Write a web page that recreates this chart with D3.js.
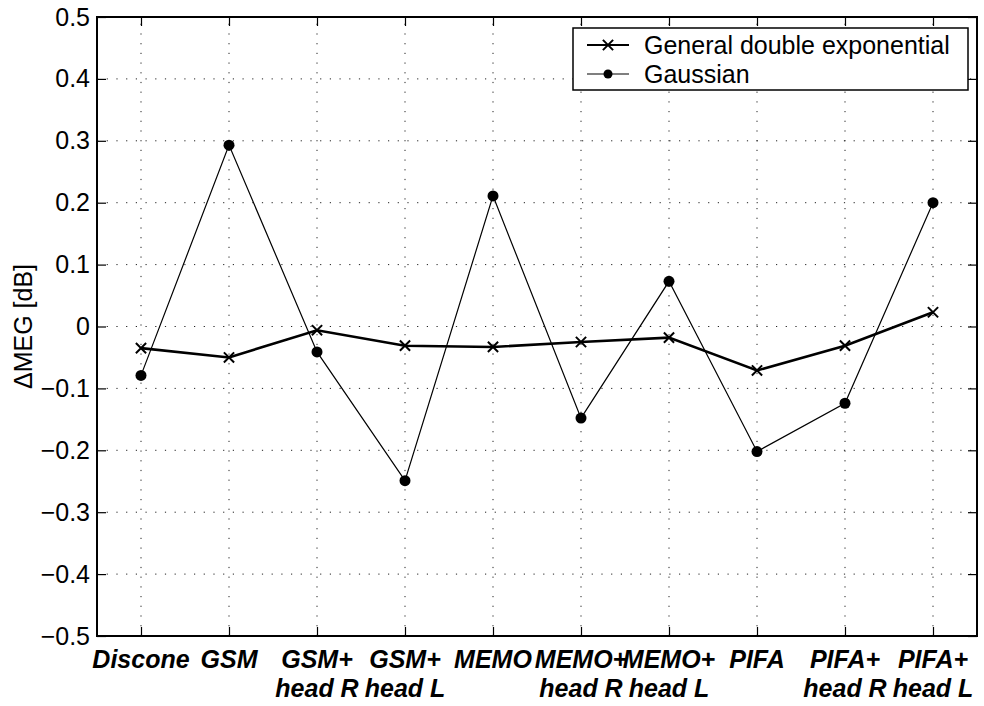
<!DOCTYPE html>
<html>
<head>
<meta charset="utf-8">
<script src="https://cdn.jsdelivr.net/npm/d3@7"></script>
<style>
  body { margin: 0; background: #fff; }
  text { font-family: "Liberation Sans", Arial, Helvetica, sans-serif; }
</style>
</head>
<body>
<svg width="984" height="706"></svg>
<script>
const categories = [
  ['Discone'], ['GSM'], ['GSM+', 'head R'], ['GSM+', 'head L'], ['MEMO'],
  ['MEMO+', 'head R'], ['MEMO+', 'head L'], ['PIFA'], ['PIFA+', 'head R'], ['PIFA+', 'head L']
];
const gdeValues = [-0.035, -0.050, -0.006, -0.031, -0.033, -0.025, -0.018, -0.071, -0.031, 0.023];
const gaussValues = [-0.079, 0.293, -0.041, -0.249, 0.211, -0.148, 0.073, -0.202, -0.124, 0.200];
const seriesNames = ['General double exponential', 'Gaussian'];

const plotLeft = 97, plotRight = 977, plotTop = 17, plotBottom = 636;
const svg = d3.select('svg');

const xScale = d3.scaleLinear()
    .domain([0.5, 10.5])
    .range([plotLeft, plotRight]);
const yScale = d3.scaleLinear()
    .domain([-0.5, 0.5])
    .range([plotBottom, plotTop]);
const yTicks = yScale.ticks(10);
const xTicks = d3.range(1, categories.length + 1);

// grid
const grid = svg.append('g')
    .style('stroke', '#222')
    .style('stroke-width', '1px')
    .style('stroke-dasharray', '1.2,8.5');
grid.selectAll('line.h')
    .data(yTicks.slice(1, -1))
    .enter()
    .append('line')
    .attr('x1', plotLeft)
    .attr('x2', plotRight)
    .attr('y1', d => yScale(d))
    .attr('y2', d => yScale(d));
grid.selectAll('line.v')
    .data(xTicks)
    .enter()
    .append('line')
    .attr('x1', d => xScale(d))
    .attr('x2', d => xScale(d))
    .attr('y1', plotBottom)
    .attr('y2', plotTop);

// axes, ticks inward on all four sides
const fmt = d => d === 0 ? '0' : d3.format('.1f')(d);
const yAxis = d3.axisLeft(yScale)
    .tickValues(yTicks)
    .tickSizeInner(-9)
    .tickSizeOuter(0)
    .tickPadding(8)
    .tickFormat(fmt);
const yAxisG = svg.append('g')
    .attr('transform', `translate(${plotLeft}, 0)`)
    .call(yAxis);
yAxisG.select('.domain').remove();
yAxisG.selectAll('text')
    .attr('x', -7)
    .style('font-size', '25px')
    .style('font-family', '"Liberation Sans", Arial, sans-serif')
    .attr('fill', '#000');

svg.append('g')
    .attr('transform', `translate(${plotRight}, 0)`)
    .call(d3.axisRight(yScale).tickValues(yTicks).tickSizeInner(-9).tickSizeOuter(0).tickFormat(''))
    .select('.domain').remove();
svg.append('g')
    .attr('transform', `translate(0, ${plotTop})`)
    .call(d3.axisTop(xScale).tickValues(xTicks).tickSizeInner(-9).tickSizeOuter(0).tickFormat(''))
    .select('.domain').remove();
const xAxisG = svg.append('g')
    .attr('transform', `translate(0, ${plotBottom})`)
    .call(d3.axisBottom(xScale).tickValues(xTicks).tickSizeInner(-9).tickSizeOuter(0).tickFormat(''));
xAxisG.select('.domain').remove();
svg.selectAll('.tick line').style('stroke', '#000').style('stroke-width', '1.2px');

svg.append('rect')
    .attr('x', plotLeft)
    .attr('y', plotTop)
    .attr('width', plotRight - plotLeft)
    .attr('height', plotBottom - plotTop)
    .style('fill', 'none')
    .style('stroke', '#000')
    .style('stroke-width', '2px');

// category labels
const xLabels = svg.append('g')
    .selectAll('text')
    .data(categories)
    .enter()
    .append('text')
    .attr('x', (d, i) => xScale(i + 1))
    .attr('y', 668)
    .attr('text-anchor', 'middle')
    .style('font-size', '25px')
    .style('font-weight', 'bold')
    .style('font-style', 'italic');
xLabels.selectAll('tspan')
    .data(d => d)
    .enter()
    .append('tspan')
    .attr('x', function () { return this.parentNode.getAttribute('x'); })
    .attr('dy', (d, i) => i === 0 ? 0 : 29)
    .text(d => d);

svg.append('text')
    .attr('transform', `translate(32, ${(plotTop + plotBottom) / 2}) rotate(-90)`)
    .attr('text-anchor', 'middle')
    .style('font-size', '25px')
    .text('\u0394MEG [dB]');

// series
const line = d3.line()
    .x((d, i) => xScale(i + 1))
    .y(d => yScale(d));

svg.append('path')
    .datum(gaussValues)
    .attr('d', line)
    .style('fill', 'none')
    .style('stroke', '#000')
    .style('stroke-width', '1.2px');
svg.selectAll('circle.gauss')
    .data(gaussValues)
    .enter()
    .append('circle')
    .attr('class', 'gauss')
    .attr('cx', (d, i) => xScale(i + 1))
    .attr('cy', d => yScale(d))
    .attr('r', 5.5)
    .style('fill', '#000');

svg.append('path')
    .datum(gdeValues)
    .attr('d', line)
    .style('fill', 'none')
    .style('stroke', '#000')
    .style('stroke-width', '2.6px');
const cross = d3.symbol().type(d3.symbolX).size(70);
svg.selectAll('path.gde')
    .data(gdeValues)
    .enter()
    .append('path')
    .attr('class', 'gde')
    .attr('d', cross)
    .attr('transform', (d, i) => `translate(${xScale(i + 1)}, ${yScale(d)})`)
    .style('fill', 'none')
    .style('stroke', '#000')
    .style('stroke-width', '2px');

// legend
const legend = svg.append('g');
legend.append('rect')
    .attr('x', 573)
    .attr('y', 28)
    .attr('width', 395)
    .attr('height', 62)
    .style('fill', '#fff')
    .style('stroke', '#000')
    .style('stroke-width', '1.5px');
const rows = legend.selectAll('g.row')
    .data(seriesNames)
    .enter()
    .append('g')
    .attr('transform', (d, i) => `translate(0, ${45 + i * 29})`);
rows.append('line')
    .attr('x1', 587)
    .attr('x2', 629)
    .attr('y1', 0)
    .attr('y2', 0)
    .style('stroke', '#000')
    .style('stroke-width', (d, i) => i === 0 ? '2.2px' : '1.2px');
rows.filter((d, i) => i === 0)
    .append('path')
    .attr('d', cross)
    .attr('transform', 'translate(608, 0)')
    .style('fill', 'none')
    .style('stroke', '#000')
    .style('stroke-width', '2px');
rows.filter((d, i) => i === 1)
    .append('circle')
    .attr('cx', 608)
    .attr('r', 4.5)
    .style('fill', '#000');
rows.append('text')
    .attr('x', 644)
    .attr('y', 9)
    .style('font-size', '25px')
    .text(d => d);
</script>
</body>
</html>
